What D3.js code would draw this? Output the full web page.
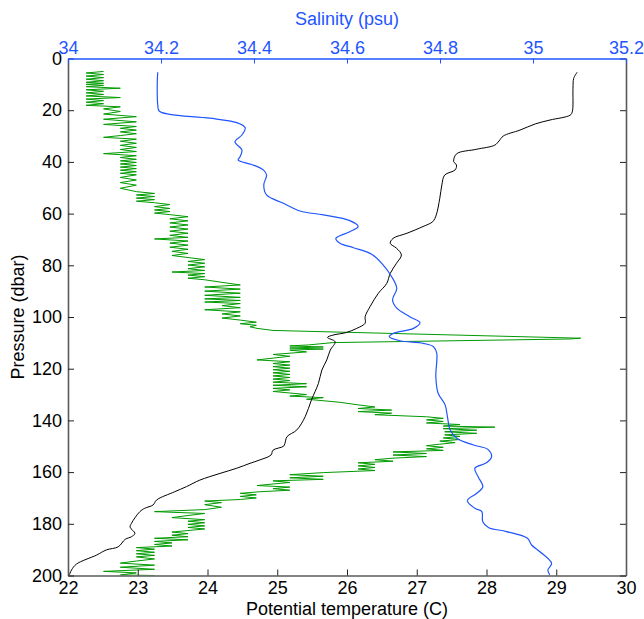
<!DOCTYPE html>
<html lang="en">
<head>
<meta charset="utf-8">
<script src="https://cdn.jsdelivr.net/npm/d3@7"></script>
<style>
  body { margin: 0; background: #fff; }
  text { font-family: "Liberation Sans", Arial, Helvetica, sans-serif; }
</style>
</head>
<body>
<script>
// potential temperature profile [pressure dbar, temperature C]
var temperature = [
  [5.3,29.30],[7.7,29.25],[11.5,29.24],[20.6,29.23],[21.9,29.20],[23.8,28.91],[25.3,28.70],[27.7,28.48],
  [30,28.24],[31.9,28.18],[33.5,28.12],[35.1,27.86],[36.9,27.57],[39.9,27.53],[41.2,27.57],[43.1,27.55],
  [45.1,27.40],[48.9,27.36],[54.1,27.33],[60.5,27.28],[63.1,27.23],[65,27.09],[67.6,26.86],[69.6,26.66],
  [71.5,26.62],[73.4,26.71],[76,26.78],[79.2,26.71],[83.1,26.62],[87,26.57],[90.8,26.45],[96,26.33],
  [99.9,26.26],[102.4,26.26],[104.4,26.14],[106,25.99],[107,25.80],[107.9,25.72],[109.6,25.83],[112.8,25.76],
  [116.6,25.71],[120.5,25.64],[125.7,25.59],[132.1,25.49],[138.6,25.40],[143.7,25.28],[146.3,25.14],[148.9,25.11],
  [150.0,25.09],[151.5,24.94],[153.4,24.91],[155.3,24.75],[156.6,24.61],[158.5,24.42],[160.5,24.18],[163.1,23.89],
  [165.6,23.70],[167.6,23.53],[170.8,23.27],[172.7,23.22],[174,23.10],[175.3,23.03],[179.8,22.91],[181.3,22.89],
  [183.7,22.96],[185,22.91],[186,22.82],[188.9,22.72],[190.1,22.55],[192.1,22.41],[195.6,22.12],[197.9,22.05],
  [199.8,22.02]
];

// salinity profile [pressure dbar, salinity psu]
var salinity = [
  [5.3,34.193],[9,34.192],[18,34.193],[20.3,34.196],[21.6,34.219],[23.1,34.305],[24.8,34.363],[26.8,34.381],
  [29.6,34.374],[32.2,34.359],[35.4,34.374],[38,34.370],[39.3,34.366],[41,34.395],[43.1,34.42],[45.1,34.427],
  [48.9,34.421],[52.8,34.427],[56,34.463],[59,34.499],[60.5,34.549],[62.7,34.606],[65,34.624],[67,34.606],
  [69.6,34.576],[71.5,34.585],[73.2,34.614],[75.7,34.653],[79.9,34.678],[84.4,34.696],[88.9,34.707],[93.4,34.698],
  [96.6,34.707],[99.9,34.735],[102.2,34.757],[104.4,34.743],[106.3,34.70],[107.6,34.691],[109.2,34.714],[110.2,34.764],
  [111.5,34.786],[114,34.793],[123.1,34.791],[129.5,34.796],[134,34.811],[138.6,34.816],[143.7,34.822],[146.9,34.836],
  [149.5,34.872],[151.2,34.903],[154,34.911],[156.4,34.90],[158.5,34.875],[161.8,34.882],[165.6,34.892],[168.2,34.879],
  [171,34.859],[174,34.875],[175.3,34.890],[179.2,34.892],[181.4,34.904],[183,34.943],[185.6,34.988],[188.2,34.997],
  [190.8,35.015],[195.3,35.040],[197.9,35.032],[199.8,35.036]
];

// noisy raw temperature trace [pressure dbar, temperature C]
var rawTrace = [
  [5.0,22.51],[5.6,22.26],[6.2,22.51],[6.8,22.26],[7.4,22.51],[8.0,22.26],[8.6,22.51],[9.2,22.26],[9.6,22.51],
  [10.0,22.26],[10.4,22.51],[10.9,22.26],[11.5,22.75],[12.1,22.26],[12.7,22.51],[13.3,22.26],[13.9,22.51],
  [14.5,22.26],[15.1,22.75],[15.7,22.26],[16.3,22.51],[16.9,22.26],[17.5,22.51],[18.1,22.26],[18.7,22.75],
  [19.5,22.51],[20.5,22.75],[21.5,22.51],[22.5,22.98],[23.5,22.51],[24.5,22.98],[25.5,22.51],[26.3,22.98],
  [27.0,22.75],[27.7,22.98],[28.4,22.75],[29.1,22.98],[29.8,22.75],[30.5,22.51],[31.2,22.98],[32.0,22.75],
  [32.8,22.98],[33.6,22.75],[34.4,22.98],[35.2,22.75],[36.0,22.98],[36.8,22.51],[37.6,22.98],[38.3,22.75],
  [39.0,22.98],[39.6,22.75],[40.2,22.98],[40.8,22.75],[41.4,22.98],[42.0,22.75],[42.6,22.98],[43.2,22.75],
  [43.8,22.98],[44.4,22.75],[45.0,22.98],[46.0,22.75],[47.0,22.98],[48.0,22.75],[49.0,22.98],[50.2,22.75],
  [51.5,22.98],[52.2,23.24],[52.8,22.98],[53.4,23.24],[54.0,22.98],[54.6,23.24],[55.2,22.98],[55.8,23.24],
  [56.5,23.46],[57.3,23.24],[58.0,23.46],[58.6,23.24],[59.2,23.46],[59.8,23.24],[60.4,23.46],[61.2,23.72],
  [62.0,23.46],[62.8,23.72],[63.6,23.46],[64.4,23.72],[65.2,23.46],[66.0,23.72],[66.8,23.46],[67.6,23.72],
  [68.4,23.46],[69.2,23.72],[69.8,23.24],[70.6,23.72],[71.4,23.46],[72.2,23.72],[73.0,23.46],[73.8,23.72],
  [74.6,23.49],[75.4,23.72],[76.2,23.49],[77.0,23.72],[77.8,23.96],[78.5,23.72],[79.2,23.96],[79.9,23.72],
  [80.6,23.96],[81.3,23.72],[82.0,23.96],[82.6,23.49],[83.2,23.96],[83.8,23.72],[84.4,23.96],[85.0,23.72],
  [85.6,23.96],[86.6,24.21],[87.6,24.47],[88.4,23.96],[89.2,24.47],[90.0,23.96],[90.8,24.47],[91.6,23.96],
  [92.4,24.47],[93.0,23.96],[93.6,24.47],[94.2,23.96],[94.8,24.47],[95.6,24.21],[96.4,24.47],[97.2,23.96],
  [98.0,24.47],[98.8,24.21],[99.6,24.47],[100.4,24.21],[101.2,24.47],[102.0,24.70],[102.6,24.47],[103.2,24.70],
  [103.8,24.61],[104.4,24.71],[105.2,24.94],[108.2,29.35],[108.5,29.2],[109.9,25.80],[110.8,25.45],
  [111.2,25.18],[111.6,25.66],[112.0,25.18],[112.4,25.66],[112.8,25.18],[113.5,25.42],[114.5,24.94],
  [115.2,25.18],[115.9,24.94],[116.6,24.71],[117.3,25.18],[118.0,24.94],[118.6,25.18],[119.2,24.94],
  [119.8,25.18],[120.4,24.94],[121.0,25.18],[121.6,24.94],[122.2,25.18],[122.8,24.94],[123.4,25.18],
  [124.0,24.94],[124.6,25.18],[125.2,24.94],[125.8,25.42],[126.4,24.94],[127.0,25.42],[127.6,24.94],
  [128.2,25.18],[128.8,24.94],[129.4,25.18],[130.0,25.42],[130.6,25.18],[131.2,25.66],[131.8,25.42],
  [133.0,25.90],[134.0,26.16],[134.8,26.40],[135.4,26.16],[136.0,26.64],[136.6,26.16],[137.2,26.64],
  [137.8,26.40],[138.6,27.14],[139.2,27.38],[139.8,27.14],[140.4,27.38],[141.0,27.14],[141.6,27.62],
  [142.2,27.38],[142.6,28.12],[143.2,27.38],[143.8,27.86],[144.4,27.40],[145.0,27.86],[145.6,27.40],
  [146.2,27.62],[146.8,27.38],[147.4,27.62],[148.0,27.33],[148.6,27.55],[149.2,27.33],[149.8,27.14],
  [150.4,27.38],[151.0,27.14],[151.6,27.38],[152.2,26.66],[152.8,27.14],[153.4,26.66],[154.0,27.14],
  [154.6,26.66],[155.2,26.40],[155.8,26.66],[156.4,26.16],[157.0,26.40],[157.6,26.16],[158.2,26.40],
  [158.8,26.16],[159.4,26.40],[160.2,25.66],[161.0,25.18],[161.6,25.66],[162.2,25.18],[162.8,25.66],
  [163.4,24.94],[164.0,25.18],[164.6,24.94],[165.2,24.71],[165.8,25.18],[166.4,24.94],[167.0,25.18],
  [167.6,24.75],[168.2,24.47],[168.8,24.70],[169.4,24.47],[170.0,24.70],[170.6,24.47],[171.2,23.96],
  [171.8,24.20],[172.6,23.96],[173.6,24.20],[174.5,23.96],[175.3,23.24],[176.0,23.96],[176.8,23.72],
  [177.6,23.49],[178.4,23.96],[179.0,23.72],[179.6,23.96],[180.2,23.72],[180.8,23.96],[181.4,23.72],
  [182.0,23.96],[182.6,23.72],[183.2,23.49],[183.8,23.72],[184.4,23.49],[185.0,23.72],[185.6,23.24],
  [186.2,23.72],[186.8,23.24],[187.4,23.49],[188.0,23.24],[188.6,23.49],[189.2,22.98],[189.8,23.24],
  [190.4,22.98],[191.0,23.24],[191.6,22.98],[192.2,23.24],[192.8,22.98],[193.6,23.24],[194.4,22.98],
  [195.2,22.75],[196.0,23.24],[196.8,22.75],[197.6,23.24],[198.4,22.51],[199.0,22.98],[199.8,22.75],[200,23.24]
];

var tempTicks = [22, 23, 24, 25, 26, 27, 28, 29, 30];
var salTicks = [34, 34.2, 34.4, 34.6, 34.8, 35, 35.2];
var pressureTicks = [0, 20, 40, 60, 80, 100, 120, 140, 160, 180, 200];

var W = 644, H = 619;
var plot = {left: 68, right: 626, top: 58.5, bottom: 575.5};
var blue = '#1f55ff', green = '#009a00', axisGray = '#5a5a5a';

var svg = d3.select('body').append('svg')
  .attr('width', W).attr('height', H);

var xT = d3.scaleLinear().domain([22, 30]).range([plot.left, plot.right]);
var xS = d3.scaleLinear().domain([34, 35.2]).range([plot.left, plot.right]);
var yP = d3.scaleLinear().domain([0, 200]).range([plot.top, plot.bottom]);

svg.append('clipPath').attr('id', 'clip')
  .append('rect')
  .attr('x', plot.left).attr('y', plot.top)
  .attr('width', plot.right - plot.left).attr('height', plot.bottom - plot.top);

var lines = svg.append('g').attr('clip-path', 'url(#clip)');

// green noisy trace
lines.append('path')
  .datum(rawTrace)
  .attr('fill', 'none')
  .attr('stroke', green)
  .attr('stroke-width', 1)
  .attr('d', d3.line().x(d => xT(d[1])).y(d => yP(d[0])));

// black temperature
lines.append('path')
  .datum(temperature)
  .attr('fill', 'none')
  .attr('stroke', '#000')
  .attr('stroke-width', 1)
  .attr('d', d3.line().curve(d3.curveCatmullRom).x(d => xT(d[1])).y(d => yP(d[0])));

// blue salinity
lines.append('path')
  .datum(salinity)
  .attr('fill', 'none')
  .attr('stroke', blue)
  .attr('stroke-width', 1.2)
  .attr('d', d3.line().curve(d3.curveCatmullRom).x(d => xS(d[1])).y(d => yP(d[0])));

// axes
var fontSize = '18px';

var bottomAxis = svg.append('g')
  .attr('transform', 'translate(0,' + plot.bottom + ')')
  .call(d3.axisBottom(xT).tickValues(tempTicks).tickFormat(d3.format('d'))
    .tickSizeInner(-6).tickSizeOuter(0).tickPadding(6));

var leftAxis = svg.append('g')
  .attr('transform', 'translate(' + plot.left + ',0)')
  .call(d3.axisLeft(yP).tickValues(pressureTicks).tickFormat(d3.format('d'))
    .tickSizeInner(-6).tickSizeOuter(0).tickPadding(6));

var rightAxis = svg.append('g')
  .attr('transform', 'translate(' + plot.right + ',0)')
  .call(d3.axisRight(yP).tickValues(pressureTicks).tickFormat('')
    .tickSizeInner(-6).tickSizeOuter(0));

var topAxis = svg.append('g')
  .attr('transform', 'translate(0,' + plot.top + ')')
  .call(d3.axisTop(xS).tickValues(salTicks).tickFormat(d => d3.format('')(d))
    .tickSizeInner(-5).tickSizeOuter(0).tickPadding(5));

[bottomAxis, leftAxis, rightAxis].forEach(function(g) {
  g.select('.domain').attr('stroke', axisGray).attr('stroke-width', 1.6);
  g.selectAll('.tick line').attr('stroke', '#222');
  g.selectAll('.tick text').attr('fill', '#000').style('font-size', fontSize)
    .style('font-family', '"Liberation Sans", Arial, sans-serif');
});

topAxis.select('.domain').attr('stroke', blue).attr('stroke-width', 1.4);
topAxis.selectAll('.tick line').attr('stroke', blue);
topAxis.selectAll('.tick text').attr('fill', blue).style('font-size', fontSize)
  .style('font-family', '"Liberation Sans", Arial, sans-serif');

// axis titles
svg.append('text')
  .attr('x', (plot.left + plot.right) / 2).attr('y', 615)
  .attr('text-anchor', 'middle')
  .style('font-size', fontSize)
  .text('Potential temperature (C)');

svg.append('text')
  .attr('x', (plot.left + plot.right) / 2).attr('y', 25)
  .attr('text-anchor', 'middle')
  .attr('fill', blue)
  .style('font-size', fontSize)
  .text('Salinity (psu)');

svg.append('text')
  .attr('transform', 'translate(24,' + ((plot.top + plot.bottom) / 2) + ') rotate(-90)')
  .attr('text-anchor', 'middle')
  .style('font-size', fontSize)
  .text('Pressure (dbar)');
</script>
</body>
</html>
